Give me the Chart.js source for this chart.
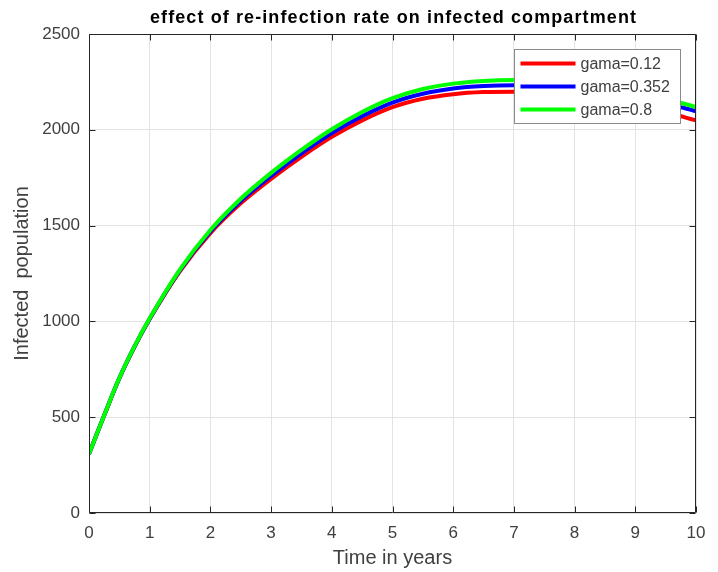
<!DOCTYPE html>
<html>
<head>
<meta charset="utf-8">
<title>effect of re-infection rate on infected compartment</title>
<script src="https://cdn.jsdelivr.net/npm/chart.js@4.4.1/dist/chart.umd.min.js"></script>
<style>
  html, body { margin: 0; padding: 0; background: #fff; }
  #wrap { width: 718px; height: 572px; }
</style>
</head>
<body>
<div id="wrap"><canvas id="chart" width="718" height="572"></canvas></div>
<script>
// values (time in years -> infected population)
const years = [0, 0.25, 0.5, 0.75, 1, 1.5, 2, 2.5, 3, 3.5, 4, 4.5, 5, 5.5, 6, 6.5, 7, 7.5, 8, 8.5, 9, 9.5, 10];
const gama012 = [308, 509, 703, 867, 1012, 1263, 1461, 1616, 1744, 1859, 1963, 2049, 2118, 2162, 2186, 2197, 2199, 2193, 2180, 2159, 2130, 2093, 2049];
const gama0352 = [308, 510, 704, 869, 1014, 1268, 1469, 1628, 1759, 1877, 1983, 2071, 2142, 2188, 2215, 2228, 2232, 2229, 2218, 2199, 2172, 2138, 2097];
const gama08 = [308, 510, 705, 870, 1016, 1272, 1477, 1640, 1775, 1895, 2003, 2093, 2165, 2213, 2241, 2255, 2260, 2256, 2244, 2224, 2196, 2161, 2119];

const seriesLabels = ["gama=0.12", "gama=0.352", "gama=0.8"];
const seriesColors = ["#ff0000", "#0000ff", "#00ff00"];

const xTickValues = [0, 1, 2, 3, 4, 5, 6, 7, 8, 9, 10];
const yTickValues = [0, 500, 1000, 1500, 2000, 2500];

const titleText = "effect of re-infection rate on infected compartment";
const xTitle = "Time in years";
const yTitle = "Infected  population";

const FONT = "'Liberation Sans', Arial, Helvetica, sans-serif";
const AXIS_COLOR = "#262626";
const TEXT_COLOR = "#404040";

function points(ys) {
  return years.map((x, i) => ({ x: x, y: ys[i] }));
}

function makeDataset(i, ys) {
  return {
    label: seriesLabels[i],
    data: points(ys),
    borderColor: seriesColors[i],
    backgroundColor: seriesColors[i],
    borderWidth: 4,
    pointRadius: 0,
    cubicInterpolationMode: "monotone",
    fill: false,
    clip: 0,
    order: 3 - i,   // green on top, red at the bottom
  };
}

// box round the plot and the inward tick marks (matlab style)
const framePlugin = {
  id: "frame",
  afterDatasetsDraw(chart) {
    const { ctx, chartArea: a, scales } = chart;
    const tick = 6;
    ctx.save();
    ctx.strokeStyle = AXIS_COLOR;
    ctx.lineWidth = 1;
    ctx.beginPath();
    const l = Math.round(a.left) + 0.5, r = Math.round(a.right) - 0.5;
    const t = Math.round(a.top) + 0.5, b = Math.round(a.bottom) - 0.5;
    ctx.moveTo(l, t); ctx.lineTo(r, t); ctx.lineTo(r, b);
    ctx.moveTo(l, t); ctx.lineTo(l, b); ctx.lineTo(r, b);
    scales.x.ticks.forEach(tk => {
      const px = Math.round(scales.x.getPixelForValue(tk.value)) + 0.5;
      ctx.moveTo(px, b); ctx.lineTo(px, b - tick);
      ctx.moveTo(px, t); ctx.lineTo(px, t + tick);
    });
    scales.y.ticks.forEach(tk => {
      const py = Math.round(scales.y.getPixelForValue(tk.value)) + 0.5;
      ctx.moveTo(l, py); ctx.lineTo(l + tick, py);
      ctx.moveTo(r, py); ctx.lineTo(r - tick, py);
    });
    ctx.stroke();
    ctx.restore();
  }
};

// legend box in the upper right corner of the plot, and the bold title
const legendTitlePlugin = {
  id: "legendTitle",
  afterDraw(chart) {
    const { ctx, chartArea: a } = chart;
    ctx.save();

    // title
    ctx.font = "bold 18px " + FONT;
    ctx.fillStyle = "#000";
    ctx.textAlign = "center";
    ctx.textBaseline = "middle";
    if ("letterSpacing" in ctx) ctx.letterSpacing = "1.1px";
    ctx.fillText(titleText, (a.left + a.right) / 2 + 1, 18);
    if ("letterSpacing" in ctx) ctx.letterSpacing = "0px";

    // legend
    const w = 166, h = 74;
    const bx = Math.round(a.right - 16.5 - w) + 0.5;
    const by = Math.round(a.top + 15) + 0.5;
    ctx.fillStyle = "#fff";
    ctx.fillRect(bx, by, w, h);
    ctx.strokeStyle = "#8a8a8a";
    ctx.lineWidth = 1;
    ctx.strokeRect(bx, by, w, h);

    ctx.font = "16px " + FONT;
    ctx.textAlign = "left";
    ctx.textBaseline = "middle";
    chart.data.datasets.forEach((ds, i) => {
      const cy = by + 14 + i * 23;
      ctx.strokeStyle = ds.borderColor;
      ctx.lineWidth = 4;
      ctx.beginPath();
      ctx.moveTo(bx + 6, cy);
      ctx.lineTo(bx + 61, cy);
      ctx.stroke();
      ctx.fillStyle = TEXT_COLOR;
      ctx.fillText(ds.label, bx + 66, cy + 1);
    });
    ctx.restore();
  }
};

const config = {
  type: "line",
  data: {
    datasets: [
      makeDataset(0, gama012),
      makeDataset(1, gama0352),
      makeDataset(2, gama08),
    ],
  },
  options: {
    responsive: false,
    animation: false,
    layout: { padding: { top: 34, right: 22, left: 0, bottom: 0 } },
    plugins: {
      legend: { display: false },
      title: { display: false },
      tooltip: { enabled: false },
    },
    scales: {
      x: {
        type: "linear",
        min: 0,
        max: 10,
        afterFit(scale) { scale.height = 59; },
        afterBuildTicks(scale) { scale.ticks = xTickValues.map(v => ({ value: v })); },
        grid: { color: "#e3e3e3", drawTicks: false, tickLength: 0 },
        border: { display: false },
        ticks: {
          padding: 10,
          color: TEXT_COLOR,
          font: { family: FONT, size: 17 },
          maxRotation: 0,
          callback: v => String(v),
        },
        title: {
          display: true,
          text: xTitle,
          color: TEXT_COLOR,
          font: { family: FONT, size: 20 },
          padding: { top: 0, bottom: 2 },
        },
      },
      y: {
        type: "linear",
        min: 0,
        max: 2500,
        afterFit(scale) { scale.width = 89; },
        afterBuildTicks(scale) { scale.ticks = yTickValues.map(v => ({ value: v })); },
        grid: { color: "#e3e3e3", drawTicks: false, tickLength: 0 },
        border: { display: false },
        ticks: {
          padding: 9,
          color: TEXT_COLOR,
          font: { family: FONT, size: 17 },
          callback: v => String(v),
        },
        title: {
          display: true,
          text: yTitle,
          color: TEXT_COLOR,
          font: { family: FONT, size: 20 },
          padding: { top: 10, bottom: 0 },
        },
      },
    },
  },
  plugins: [framePlugin, legendTitlePlugin],
};

new Chart(document.getElementById("chart"), config);
</script>
</body>
</html>
